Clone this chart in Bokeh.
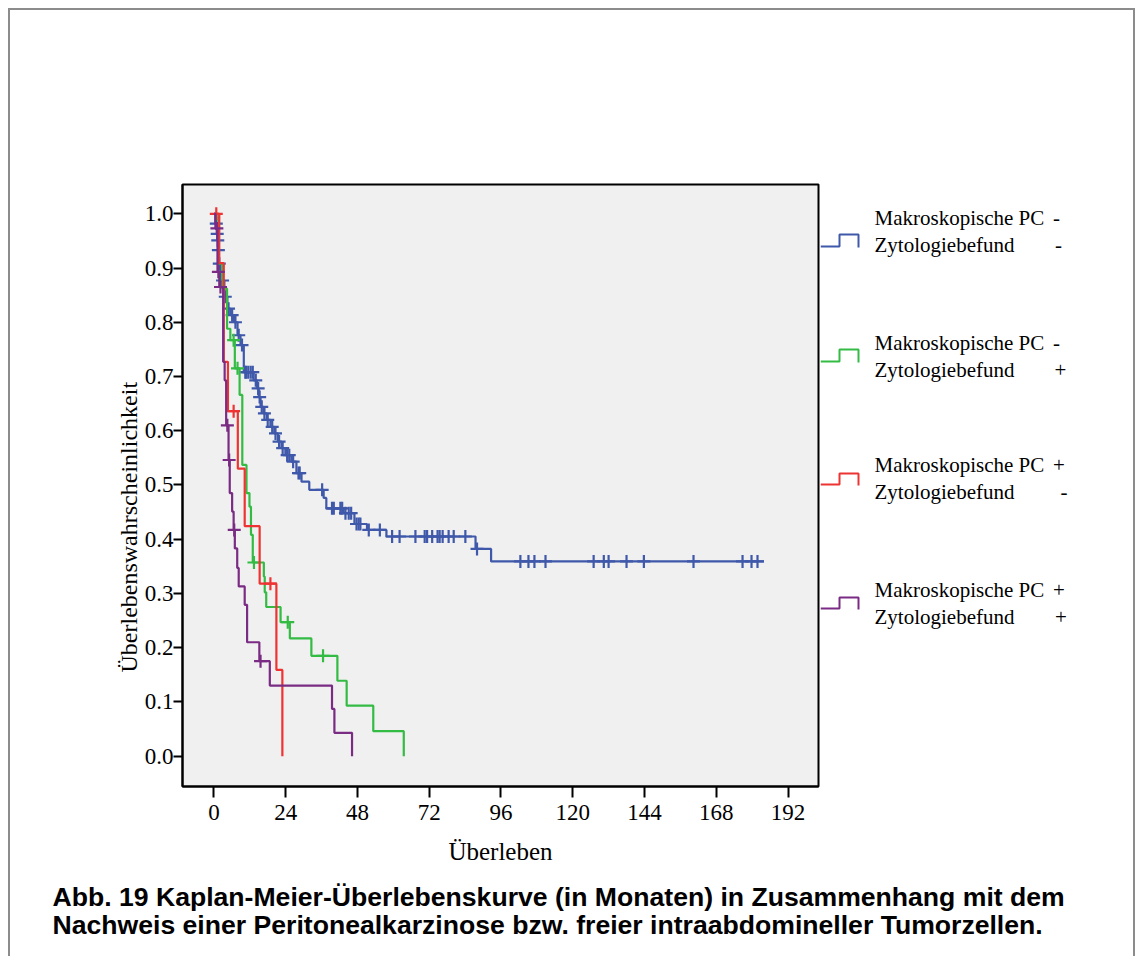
import numpy as np
from bokeh.plotting import figure
from bokeh.models import Range1d, FixedTicker, PrintfTickFormatter, Title
from bokeh.layouts import row, column
from bokeh.core.properties import value
from bokeh.embed import file_html
from bokeh.resources import INLINE

# ---------------- data ----------------
x_ticks = [0, 24, 48, 72, 96, 120, 144, 168, 192]
y_ticks = [0.0, 0.1, 0.2, 0.3, 0.4, 0.5, 0.6, 0.7, 0.8, 0.9, 1.0]

# Makroskopische PC - / Zytologiebefund -
blue_t = [0, 0.5, 1.0, 1.2, 1.4, 1.6, 2.2, 3.5, 4.5, 5.5, 6.7, 7.9, 8.9, 10.0, 13.3, 14.4,
          15.0, 15.6, 16.6, 17.7, 18.9, 20.2, 21.4, 22.6, 23.9, 25.9, 27.6, 29.3, 31.9,
          36.7, 37.6, 43.4, 47.0, 51.2, 57.7, 87.5, 92.7]
blue_s = [1.0, 0.982, 0.963, 0.951, 0.933, 0.908, 0.877, 0.847, 0.825, 0.813, 0.800, 0.776,
          0.758, 0.708, 0.693, 0.678, 0.662, 0.644, 0.632, 0.620, 0.607, 0.595, 0.580, 0.568,
          0.555, 0.543, 0.522, 0.506, 0.491, 0.476, 0.457, 0.448, 0.428, 0.417, 0.405, 0.382,
          0.359]
blue_end = 183.9
blue_cens = [0.8, 1.1, 1.3, 1.5, 1.8, 2.9, 3.8, 4.9, 6.1, 7.2, 8.3, 9.4, 10.5, 10.8, 11.5,
             12.3, 13.0, 14.0, 14.8, 15.3, 16.0, 16.9, 18.0, 19.5, 20.6, 21.8, 23.0, 24.5,
             25.2, 26.5, 28.3, 28.7, 36.2, 39.5, 40.1, 42.3, 42.9, 44.0, 45.1, 45.9, 47.7,
             48.4, 49.0, 51.8, 55.5, 59.6, 62.1, 67.4, 70.5, 71.3, 73.0, 74.8, 75.5, 76.5,
             78.5, 80.2, 84.1, 88.0, 102.5, 105.2, 107.2, 110.9, 127.0, 130.4, 132.0, 138.0,
             143.8, 160.4, 176.8, 179.8, 181.8]

# Makroskopische PC - / Zytologiebefund +
green_t = [0, 1.5, 2.8, 4.4, 5.5, 7.0, 8.6, 9.5, 10.9, 11.9, 12.4, 13.0, 16.7, 17.0, 17.5,
           22.3, 25.4, 32.6, 41.3, 44.4, 53.3, 63.5]
green_s = [1.0, 0.908, 0.862, 0.788, 0.767, 0.715, 0.666, 0.537, 0.485, 0.460, 0.408, 0.357,
           0.331, 0.302, 0.275, 0.247, 0.217, 0.185, 0.139, 0.093, 0.046, 0.0]
green_end = 63.5
green_cens = [6.6, 7.9, 13.4, 24.7, 36.5]

# Makroskopische PC + / Zytologiebefund -
red_t = [0, 1.8, 3.3, 4.7, 8.0, 10.3, 15.3, 20.9, 22.9]
red_s = [1.0, 0.909, 0.727, 0.636, 0.530, 0.424, 0.318, 0.159, 0.0]
red_end = 22.9
red_cens = [0.8, 6.6, 18.9]

# Makroskopische PC + / Zytologiebefund +
purple_t = [0, 0.5, 1.2, 1.8, 3.1, 3.6, 4.1, 4.9, 5.3, 6.1, 6.6, 7.0, 7.8, 8.3, 10.3, 11.1,
            15.2, 18.7, 39.5, 40.3, 46.2]
purple_s = [1.0, 0.973, 0.893, 0.865, 0.727, 0.693, 0.610, 0.546, 0.485, 0.451, 0.417, 0.383,
            0.347, 0.313, 0.279, 0.210, 0.175, 0.130, 0.087, 0.043, 0.0]
purple_end = 46.2
purple_cens = [1.0, 1.5, 2.2, 4.5, 5.1, 6.8, 15.6]

legend_line1 = ["Makroskopische PC", "Makroskopische PC", "Makroskopische PC", "Makroskopische PC"]
legend_sign1 = ["-", "-", "+", "+"]
legend_line2 = ["Zytologiebefund", "Zytologiebefund", "Zytologiebefund", "Zytologiebefund"]
legend_sign2 = ["-", "+", "-", "+"]

x_title = "Überleben"
y_title = "Überlebenswahrscheinlichkeit"
caption = ["Abb. 19 Kaplan-Meier-Überlebenskurve (in Monaten) in Zusammenhang mit dem",
           "Nachweis einer Peritonealkarzinose bzw. freier intraabdomineller Tumorzellen."]

# ---------------- styles / layout (page pixel geometry) ----------------
colors = ["#3F58AA", "#33BB44", "#EE3333", "#7A2B83"]
groups = [(blue_t, blue_s, blue_end, blue_cens),
          (green_t, green_s, green_end, green_cens),
          (red_t, red_s, red_end, red_cens),
          (purple_t, purple_s, purple_end, purple_cens)]

LEFT, TOP = 10, 10            # content origin inside the 2px page frame (8px margin)
RIGHT, BOTTOM = 1133, 956
MAIN_R, SPLIT_Y = 820, 880    # main chart right edge, caption strip top
FL, FR, FT, FB = 182, 818, 184, 786   # plot frame in page pixels
X0, X1 = -10.5, 202.2
Y0, Y1 = -0.056, 1.054
SERIF = "Liberation Serif"

p = figure(width=MAIN_R - LEFT, height=SPLIT_Y - TOP,
           x_range=Range1d(X0, X1), y_range=Range1d(Y0, Y1),
           output_backend="svg", toolbar_location=None,
           min_border_left=FL - LEFT, min_border_right=MAIN_R - FR,
           min_border_top=FT - TOP, min_border_bottom=SPLIT_Y - FB)
p.background_fill_color = "#f0f0f0"
p.border_fill_color = "white"
p.outline_line_color = "black"
p.outline_line_width = 2
p.grid.visible = False

p.xaxis.ticker = FixedTicker(ticks=x_ticks)
p.yaxis.ticker = FixedTicker(ticks=y_ticks)
p.yaxis.formatter = PrintfTickFormatter(format="%.1f")
p.xaxis.axis_label = x_title
for ax in (p.xaxis[0], p.yaxis[0]):
    ax.axis_line_width = 2
    ax.axis_line_color = "black"
    ax.major_tick_line_width = 2
    ax.major_tick_line_color = "black"
    ax.minor_tick_line_color = None
    ax.major_tick_in = 0
    ax.major_label_text_font = SERIF
    ax.major_label_text_font_size = "23px"
    ax.major_label_text_color = "black"
    ax.axis_label_text_font = SERIF
    ax.axis_label_text_font_size = "25px"
    ax.axis_label_text_font_style = "normal"
    ax.axis_label_text_color = "black"
p.xaxis.major_tick_out = 11
p.xaxis.major_label_standoff = 7
p.xaxis.axis_label_standoff = 15
p.yaxis.major_tick_out = 9
p.yaxis.major_label_standoff = 0
p.yaxis.axis_label_standoff = 0

# y axis title, placed lower than centre like in the original
p.add_layout(Title(text=y_title, align="left", offset=114, text_font=SERIF,
                   text_font_size="24px", text_font_style="normal", text_color="black",
                   standoff=0), "left")

for (t, s, tend, cens), c in zip(groups, colors):
    tt = list(t) + [tend]
    ss = list(s) + [s[-1]]
    p.step(x=tt, y=ss, mode="after", line_color=c, line_width=2.2)
    idx = np.searchsorted(np.array(t), np.array(cens), side="right") - 1
    cy = [s[i] for i in idx]
    p.scatter(x=cens, y=cy, marker="cross", size=13, line_color=c, line_width=2.2)

# ---------------- legend panel (frame aligned with the chart frame, page-pixel y) ----------------
lg = figure(width=RIGHT - MAIN_R, height=SPLIT_Y - TOP,
            x_range=Range1d(MAIN_R, RIGHT), y_range=Range1d(FB, FT),
            output_backend="svg", toolbar_location=None,
            x_axis_location=None, y_axis_location=None,
            min_border_left=0, min_border_right=0,
            min_border_top=FT - TOP, min_border_bottom=SPLIT_Y - FB)
lg.outline_line_color = None
lg.grid.visible = False
lg.background_fill_color = "white"
lg.border_fill_color = "white"

icon_low = [246, 361, 484, 608]
icon_high = [234, 349, 473, 597]
text_base1 = [217, 342, 464, 589]
sign1_x = [1056, 1056, 1058.5, 1058.5]
sign2_x = [1058, 1060, 1063.5, 1060.5]
for i, c in enumerate(colors):
    lo, hi = icon_low[i], icon_high[i]
    lg.line(x=[820, 839, 839, 858, 858], y=[lo, lo, hi, hi, lo + 1], line_color=c, line_width=2)
    b1 = text_base1[i]
    b2 = b1 + 27
    lg.text(x=[874, 874], y=[b1, b2], text=[legend_line1[i], legend_line2[i]],
            text_align="left", text_baseline="alphabetic", text_font=value(SERIF),
            text_font_size="21px", text_color="black")
    lg.text(x=[sign1_x[i], sign2_x[i]], y=[b1, b2], text=[legend_sign1[i], legend_sign2[i]],
            text_align="center", text_baseline="alphabetic", text_font=value(SERIF),
            text_font_size="21px", text_color="black")

# ---------------- caption strip ----------------
cap = figure(width=RIGHT - LEFT, height=BOTTOM - SPLIT_Y,
             x_range=Range1d(LEFT, RIGHT), y_range=Range1d(BOTTOM, SPLIT_Y),
             output_backend="svg", toolbar_location=None,
             x_axis_location=None, y_axis_location=None,
             min_border_left=0, min_border_right=0, min_border_top=0, min_border_bottom=0)
cap.outline_line_color = None
cap.grid.visible = False
cap.background_fill_color = "white"
cap.border_fill_color = "white"
cap.text(x=[52, 52], y=[896, 924], text=caption, text_align="left", text_baseline="alphabetic",
         text_font=value("Liberation Sans"), text_font_style="bold", text_font_size="26.6px",
         text_color="black")

layout = column(row(p, lg), cap)
layout.styles = {"margin-left": "8px", "margin-top": "8px",
                 "border-left": "2px solid #8c8c8c", "border-top": "2px solid #8c8c8c",
                 "border-right": "2px solid #8c8c8c"}

open("out.html", "w").write(file_html(layout, INLINE))
